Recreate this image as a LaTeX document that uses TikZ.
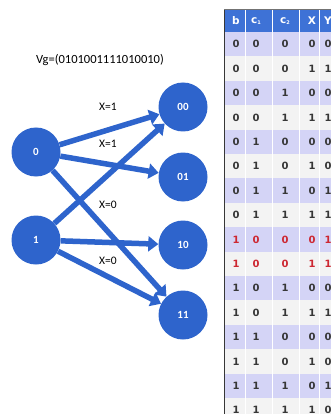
\documentclass[tikz,border=0pt]{standalone}
\usepackage{fontspec}
\setmainfont{Carlito}
\newfontfamily\tabfont{DejaVu Sans}
\usetikzlibrary{arrows.meta}
\definecolor{nodeblue}{RGB}{46,100,204}
\definecolor{headblue}{RGB}{62,114,214}
\definecolor{lav}{RGB}{212,212,246}
\definecolor{lgray}{RGB}{243,243,243}
\definecolor{redtxt}{RGB}{205,40,50}
\definecolor{darktxt}{RGB}{55,55,55}
\begin{document}
\begin{tikzpicture}[x=1pt,y=-1pt,
  state/.style={circle,fill=nodeblue,minimum size=49pt,inner sep=0pt,text=white,font=\bfseries\fontsize{11}{13}\selectfont},
  edge/.style={draw=nodeblue,line width=5.5pt,-{Triangle[length=10pt,width=15pt]}},
  lbl/.style={font=\fontsize{11.5}{13}\selectfont,inner sep=0pt},
  cell/.style={font=\tabfont\bfseries\fontsize{10}{12}\selectfont,text=darktxt,inner sep=0pt},
  hcell/.style={font=\tabfont\bfseries\fontsize{10.5}{12}\selectfont,text=white,inner sep=0pt},
]
\useasboundingbox (0,0) rectangle (331,414);
\fill[white] (0,0) rectangle (331,414);

% title
\node[font=\fontsize{12.5}{15}\selectfont,inner sep=0pt] (vg) at (100,60) {Vg=(0101001111010010)};

% states
\node[state] (n0) at (36,152) {0};
\node[state] (n1) at (36,240) {1};
\node[state] (n00) at (183,107) {00};
\node[state] (n01) at (183,177) {01};
\node[state] (n10) at (183,245) {10};
\node[state] (n11) at (183,315) {11};

% edges
\draw[edge] (n0) -- (n00);
\draw[edge] (n0) -- (n01);
\draw[edge] (n0) -- (n11);
\draw[edge] (n1) -- (n00);
\draw[edge] (n1) -- (n10);
\draw[edge] (n1) -- (n11);

% labels
\node[lbl] (la) at (108,107) {X=1};
\node[lbl] (lb) at (108,144) {X=1};
\node[lbl] (lc) at (108,205) {X=0};
\node[lbl] (ld) at (108,261) {X=0};

% table
\begin{scope}
\clip (0,0) rectangle (331,414);
\fill[headblue] (224,10) rectangle (340,32);
\foreach \k in {1,...,16}{
  \pgfmathsetmacro{\top}{32+24.4*(\k-1)}
  \pgfmathsetmacro{\bot}{32+24.4*\k}
  \ifodd\k
    \fill[lav] (224,\top) rectangle (340,\bot);
  \else
    \fill[lgray] (224,\top) rectangle (340,\bot);
  \fi
}
\foreach \xs in {245,272,299,319}
  \draw[white,line width=1pt] (\xs,10) -- (\xs,420);
\draw[darktxt,line width=1pt] (224,9.5) -- (224,420);
\draw[darktxt!70,line width=0.6pt] (224,9.7) -- (340,9.7);

\node[hcell] (hb) at (236,21) {b};
\node[hcell] (hc1) at (256,21) {c\raisebox{-1pt}{\fontsize{5}{6}\selectfont 1}};
\node[hcell] (hc2) at (285,21) {c\raisebox{-1pt}{\fontsize{5}{6}\selectfont 2}};
\node[hcell] (hx) at (312,21) {X};
\node[hcell] (hy) at (328,21) {Y};

\foreach \b/\c/\d/\x/\y [count=\k] in {0/0/0/0/0,0/0/0/1/1,0/0/1/0/0,0/0/1/1/1,0/1/0/0/0,0/1/0/1/0,0/1/1/0/1,0/1/1/1/1,1/0/0/0/1,1/0/0/1/1,1/0/1/0/0,1/0/1/1/1,1/1/0/0/0,1/1/0/1/0,1/1/1/0/1,1/1/1/1/0}{
  \pgfmathsetmacro{\yc}{32+24.4*(\k-0.5)}
  \ifnum\k=9 \def\tc{redtxt}\else\ifnum\k=10 \def\tc{redtxt}\else\def\tc{darktxt}\fi\fi
  \node[cell,text=\tc] (r\k a) at (236,\yc) {\b};
  \node[cell,text=\tc] (r\k b) at (256,\yc) {\c};
  \node[cell,text=\tc] (r\k c) at (285,\yc) {\d};
  \node[cell,text=\tc] (r\k d) at (312,\yc) {\x};
  \node[cell,text=\tc] (r\k e) at (328,\yc) {\y};
}
\end{scope}
\end{tikzpicture}
\end{document}
